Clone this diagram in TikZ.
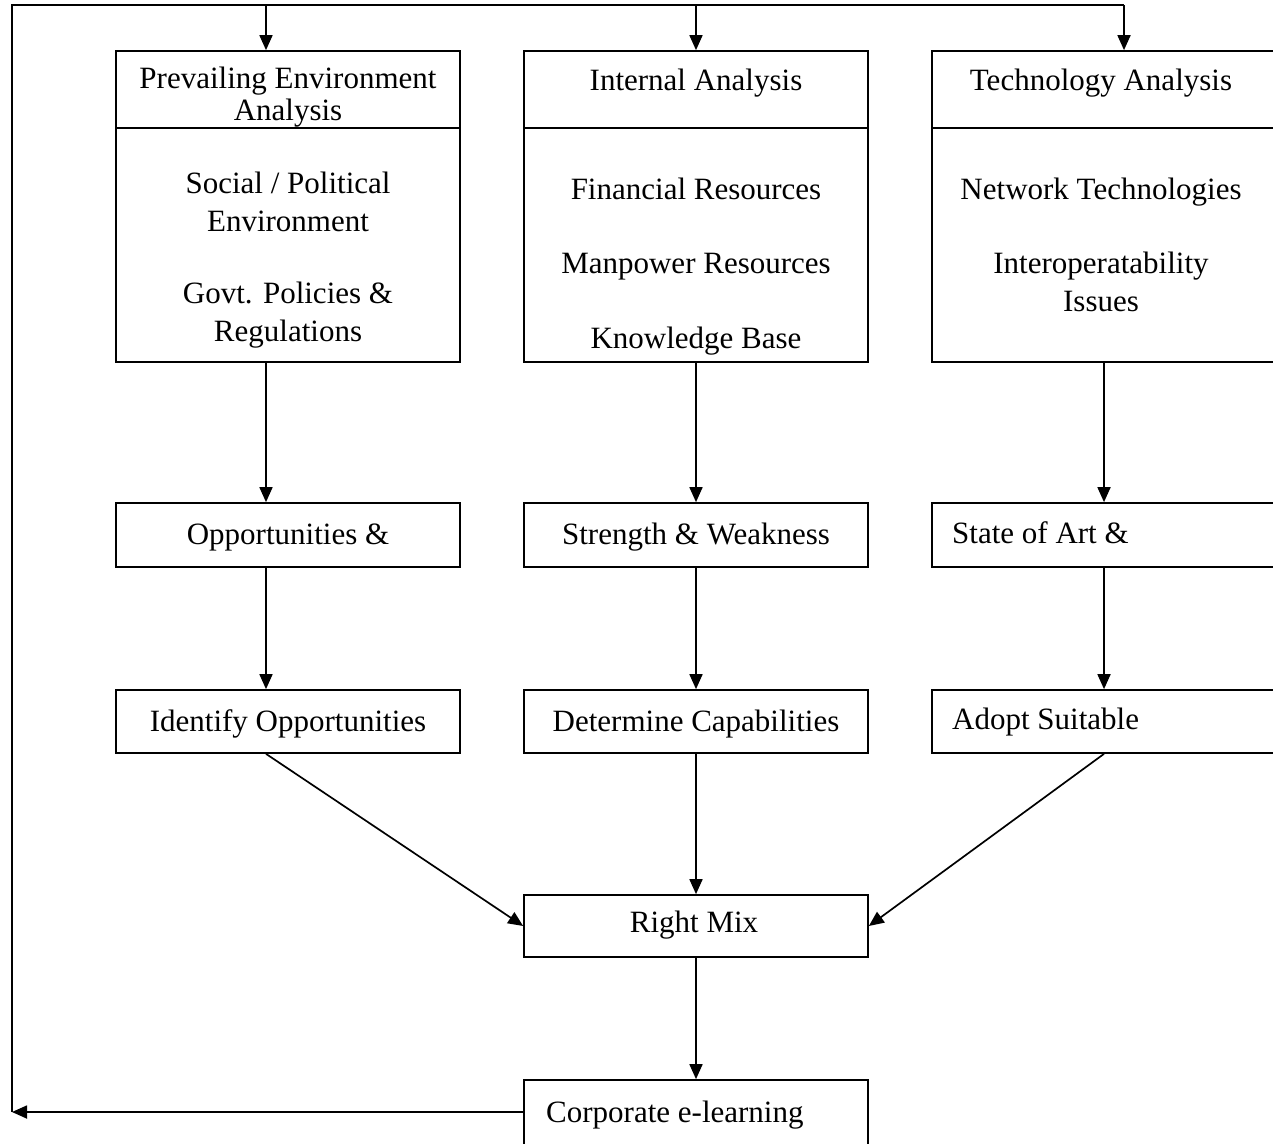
\documentclass[tikz,border=0pt]{standalone}
\usepackage{fontspec}
\setmainfont{Liberation Serif}
\usetikzlibrary{arrows.meta}
\begin{document}
\begin{tikzpicture}[x=1pt,y=-1pt,
  box/.style={draw,line width=1.7pt,minimum width=344pt,inner sep=0pt},
  txt/.style={font=\fontsize{31}{38}\selectfont,anchor=base,inner sep=0pt},
  ltxt/.style={txt,anchor=base west},
  arr/.style={line width=1.7pt,-{Triangle[length=15pt,width=13pt]}},
  ln/.style={line width=1.7pt}]
\useasboundingbox (0,0) rectangle (1273,1143);
% boxes
\node[box,minimum height=311pt] (p1) at (288,206.5) {};
\node[box,minimum height=311pt] (p2) at (696,206.5) {};
\node[box,minimum height=311pt] (p3) at (1104,206.5) {};
\draw[ln] ([yshift=-78pt]p1.north west) -- ([yshift=-78pt]p1.north east);
\draw[ln] ([yshift=-78pt]p2.north west) -- ([yshift=-78pt]p2.north east);
\draw[ln] ([yshift=-78pt]p3.north west) -- ([yshift=-78pt]p3.north east);
\node[box,minimum height=64pt] (o1) at (288,535) {};
\node[box,minimum height=64pt] (o2) at (696,535) {};
\node[box,minimum height=64pt] (o3) at (1104,535) {};
\node[box,minimum height=63pt] (i1) at (288,721.5) {};
\node[box,minimum height=63pt] (i2) at (696,721.5) {};
\node[box,minimum height=63pt] (i3) at (1104,721.5) {};
\node[box,minimum height=62pt] (rm) at (696,926) {};
\node[box,minimum height=70pt] (corp) at (696,1115) {};
% texts
\node[txt] (h1a) at (288,88) {Prevailing Environment};
\node[txt] (h1b) at (288,120) {Analysis};
\node[txt] (h2) at (696,90) {Internal Analysis};
\node[txt] (h3) at (1101,90) {Technology Analysis};
\node[txt] (b1a) at (288,193) {Social / Political};
\node[txt] (b1b) at (288,231) {Environment};
\node[txt] (b1c) at (288,303) {Govt. Policies \&};
\node[txt] (b1d) at (288,341) {Regulations};
\node[txt] (b2a) at (696,199) {Financial Resources};
\node[txt] (b2b) at (696,273) {Manpower Resources};
\node[txt] (b2c) at (696,348) {Knowledge Base};
\node[txt] (b3a) at (1101,199) {Network Technologies};
\node[txt] (b3b) at (1101,273) {Interoperatability};
\node[txt] (b3c) at (1101,311) {Issues};
\node[txt] (t1) at (288,544) {Opportunities \&};
\node[txt] (t2) at (696,544) {Strength \& Weakness};
\node[ltxt] (t3) at (952,543) {State of Art \&};
\node[txt] (u1) at (288,731) {Identify Opportunities};
\node[txt] (u2) at (696,731) {Determine Capabilities};
\node[ltxt] (u3) at (952,729) {Adopt Suitable};
\node[txt] (rmt) at (694,932) {Right Mix};
\node[ltxt] (ct) at (546,1122) {Corporate e-learning};
% arrow columns
\coordinate (a1) at (266,0);
\coordinate (a3) at (1104,0);
\coordinate (a3t) at (1124,0);
\coordinate (fbT) at (12,5);
\coordinate (fbL) at (12,1112);
% vertical connectors
\draw[arr] (p1.south -| a1) -- (o1.north -| a1);
\draw[arr] (p2.south) -- (o2.north);
\draw[arr] (p3.south -| a3) -- (o3.north -| a3);
\draw[arr] (o1.south -| a1) -- (i1.north -| a1);
\draw[arr] (o2.south) -- (i2.north);
\draw[arr] (o3.south -| a3) -- (i3.north -| a3);
\draw[arr] (i1.south -| a1) -- (rm.west);
\draw[arr] (i2.south) -- (rm.north);
\draw[arr] (i3.south -| a3) -- (rm.east);
\draw[arr] (rm.south) -- (corp.north);
% feedback loop
\draw[arr] (corp.west |- fbL) -- (fbL);
\draw[ln] (fbL) -- (fbT) -- (fbT -| a3t);
\draw[arr] (fbT -| a1) -- (p1.north -| a1);
\draw[arr] (fbT -| p2.north) -- (p2.north);
\draw[arr] (fbT -| a3t) -- (p3.north -| a3t);
\end{tikzpicture}
\end{document}
